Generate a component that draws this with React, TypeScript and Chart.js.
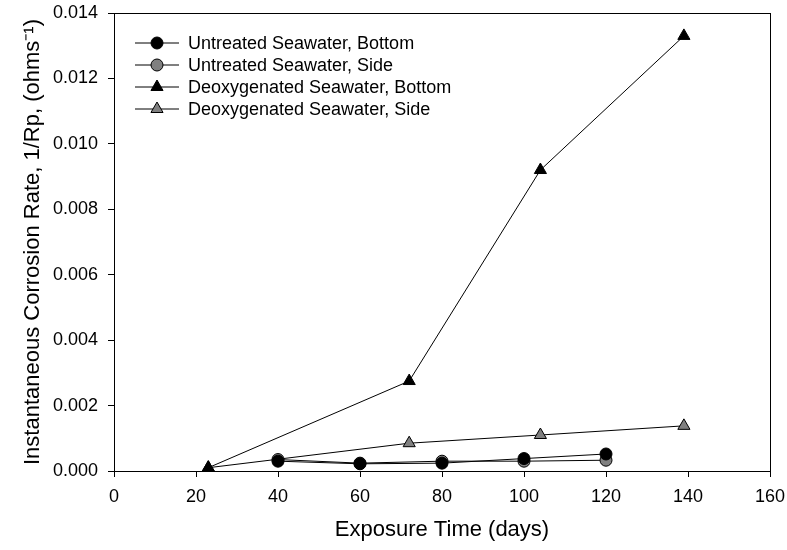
import React, { useEffect, useRef } from "react";
import { Chart, registerables } from "chart.js";

Chart.register(...registerables);

const untreatedDays = [40, 60, 80, 100, 120];
const untreatedBottom = [0.0003, 0.00022, 0.00024, 0.00038, 0.00052];
const untreatedSide = [0.00035, 0.00024, 0.0003, 0.0003, 0.00033];
const deoxDays = [23, 72, 104, 139];
const deoxBottom = [0.0001, 0.00275, 0.0092, 0.0133];
const deoxSide = [0.0001, 0.00085, 0.0011, 0.00138];

const seriesNames = [
  "Untreated Seawater, Bottom",
  "Untreated Seawater, Side",
  "Deoxygenated Seawater, Bottom",
  "Deoxygenated Seawater, Side",
];
const xTicks = [0, 20, 40, 60, 80, 100, 120, 140, 160];
const yTicks = [0, 0.002, 0.004, 0.006, 0.008, 0.01, 0.012, 0.014];

const FONT = "'Liberation Sans', Arial, Helvetica, sans-serif";
const GRAY = "#808080";
const TICK_SIZE = 18;
const LEGEND_SIZE = 18;
const TITLE_SIZE = 22;

const toPts = (xs: number[], ys: number[]) => xs.map((x, i) => ({ x, y: ys[i] }));

function drawMarker(ctx: CanvasRenderingContext2D, style: string, x: number, y: number, r: number, fill: string) {
  ctx.save();
  ctx.beginPath();
  if (style === "circle") {
    ctx.arc(x, y, r, 0, Math.PI * 2);
  } else {
    let rad = 0;
    for (let i = 0; i < 3; i++) {
      const px = x + Math.sin(rad) * r;
      const py = y - Math.cos(rad) * r;
      if (i === 0) ctx.moveTo(px, py);
      else ctx.lineTo(px, py);
      rad += (2 * Math.PI) / 3;
    }
    ctx.closePath();
  }
  ctx.fillStyle = fill;
  ctx.fill();
  ctx.strokeStyle = "#000";
  ctx.lineWidth = 1;
  ctx.stroke();
  ctx.restore();
}

const framePlugin = {
  id: "frame",
  beforeDatasetsDraw(chart: any) {
    const { ctx, chartArea } = chart;
    ctx.save();
    ctx.strokeStyle = "#000";
    ctx.lineWidth = 1;
    ctx.strokeRect(chartArea.left + 0.5, chartArea.top + 0.5, chartArea.right - chartArea.left, chartArea.bottom - chartArea.top);
    ctx.restore();
  },
};

const legendPlugin = {
  id: "customLegend",
  afterDatasetsDraw(chart: any) {
    const { ctx, chartArea } = chart;
    const x0 = chartArea.left + 21;
    const y0 = chartArea.top + 30;
    const rowH = 22;
    chart.data.datasets.forEach((ds: any, i: number) => {
      const y = y0 + i * rowH;
      ctx.save();
      ctx.strokeStyle = "#000";
      ctx.lineWidth = 1;
      ctx.beginPath();
      ctx.moveTo(x0, y);
      ctx.lineTo(x0 + 44, y);
      ctx.stroke();
      ctx.restore();
      drawMarker(ctx, ds.pointStyle, x0 + 22, y, ds.pointRadius, ds.pointBackgroundColor);
      ctx.save();
      ctx.fillStyle = "#000";
      ctx.font = `${LEGEND_SIZE}px ${FONT}`;
      ctx.textAlign = "left";
      ctx.textBaseline = "middle";
      ctx.fillText(ds.label, x0 + 53, y + 1);
      ctx.restore();
    });
  },
};

const zeroPad = (s: any) => {
  s.paddingTop = 0;
  s.paddingBottom = 0;
  s.paddingLeft = 0;
  s.paddingRight = 0;
};

export default function App() {
  const canvasRef = useRef<HTMLCanvasElement | null>(null);

  useEffect(() => {
    if (!canvasRef.current) return;
    const mk = (label: string, data: any[], style: string, fill: string, r: number) => ({
      label,
      data,
      showLine: true,
      borderColor: "#000",
      borderWidth: 1,
      pointStyle: style,
      pointRadius: r,
      pointBackgroundColor: fill,
      pointBorderColor: "#000",
      pointBorderWidth: 1,
    });
    const chart = new Chart(canvasRef.current, {
      type: "scatter",
      data: {
        datasets: [
          mk(seriesNames[0], toPts(untreatedDays, untreatedBottom), "circle", "#000", 6),
          mk(seriesNames[1], toPts(untreatedDays, untreatedSide), "circle", GRAY, 6),
          mk(seriesNames[2], toPts(deoxDays, deoxBottom), "triangle", "#000", 7),
          mk(seriesNames[3], toPts(deoxDays, deoxSide), "triangle", GRAY, 7),
        ],
      },
      options: {
        animation: false,
        responsive: false,
        events: [],
        layout: { padding: { left: 0, top: 13, right: 17, bottom: 0 } },
        plugins: { legend: { display: false }, tooltip: { enabled: false } },
        scales: {
          x: {
            type: "linear",
            min: 0,
            max: 160,
            afterFit: (s: any) => { s.height = 79; zeroPad(s); },
            afterBuildTicks: (s: any) => { s.ticks = xTicks.map((v) => ({ value: v })); },
            border: { display: true, color: "#000", width: 1 },
            grid: { drawOnChartArea: false, drawTicks: true, tickLength: 6, color: "#000" },
            ticks: { color: "#000", padding: 9, maxRotation: 0, font: { family: FONT, size: TICK_SIZE }, callback: (v: any) => String(v) },
            title: { display: true, text: "Exposure Time (days)", color: "#000", font: { family: FONT, size: TITLE_SIZE }, padding: { bottom: 7, top: 0 } },
          },
          y: {
            type: "linear",
            min: 0,
            max: 0.014,
            afterFit: (s: any) => { s.width = 114; zeroPad(s); },
            afterBuildTicks: (s: any) => { s.ticks = yTicks.map((v) => ({ value: v })); },
            border: { display: true, color: "#000", width: 1 },
            grid: { drawOnChartArea: false, drawTicks: true, tickLength: 6, color: "#000" },
            ticks: { color: "#000", padding: 10, font: { family: FONT, size: TICK_SIZE }, callback: (v: any) => Number(v).toFixed(3) },
            title: { display: true, text: "Instantaneous Corrosion Rate, 1/Rp, (ohms\u207B\u00B9)", color: "#000", font: { family: FONT, size: TITLE_SIZE }, padding: { top: 20, bottom: 0 } },
          },
        },
      },
      plugins: [framePlugin, legendPlugin],
    } as any);
    return () => chart.destroy();
  }, []);

  return (
    <div style={{ position: "absolute", left: 0, top: 0, width: 787, height: 550, background: "#fff" }}>
      <canvas ref={canvasRef} width={787} height={550} style={{ width: 787, height: 550, display: "block" }} />
    </div>
  );
}
